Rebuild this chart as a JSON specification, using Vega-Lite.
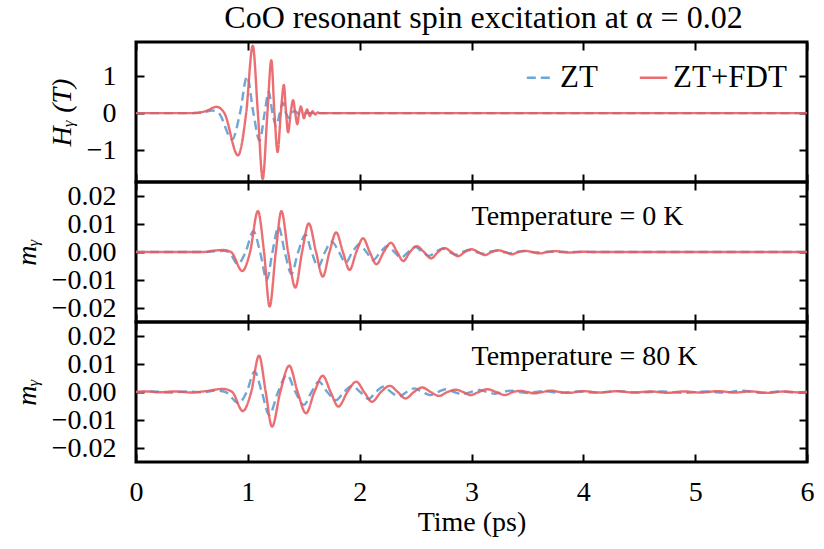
{
  "$schema": "https://vega.github.io/schema/vega-lite/v6.json",
  "padding": {"left": 11, "top": 0, "right": 10, "bottom": 5},
  "background": "white",
  "spacing": 0,
  "bounds": "flush",
  "config": {
    "font": "Liberation Serif",
    "view": {"stroke": "black", "strokeWidth": 3},
    "axis": {
      "domain": false,
      "grid": false,
      "ticks": true,
      "tickSize": -8,
      "tickWidth": 2,
      "tickColor": "black",
      "labelFont": "Liberation Serif",
      "labelFontSize": 28,
      "labelColor": "black",
      "labelPadding": 28,
      "labelFlush": false,
      "labelOverlap": false,
      "titleFont": "Liberation Serif",
      "titleFontSize": 28,
      "titleFontWeight": "normal",
      "titleColor": "black",
      "titlePadding": 10
    },
    "legend": {
      "orient": "top-right",
      "direction": "horizontal",
      "symbolType": "stroke",
      "symbolSize": 750,
      "symbolStrokeWidth": 2.5,
      "labelFont": "Liberation Serif",
      "labelFontSize": 31,
      "labelColor": "black",
      "columnPadding": 36,
      "offset": 20,
      "padding": 0
    },
    "title": {"font": "Liberation Serif", "fontSize": 32, "fontWeight": "normal", "color": "black"}
  },
  "datasets": {
    "hy": [
      {"s": "ZT", "t": 0, "v": 0}, {"s": "ZT", "t": 0.5, "v": 0}, {"s": "ZT", "t": 0.6, "v": 0.02}, {"s": "ZT", "t": 0.68, "v": 0.07},
      {"s": "ZT", "t": 0.74, "v": 0}, {"s": "ZT", "t": 0.86, "v": -0.71}, {"s": "ZT", "t": 0.93, "v": 0}, {"s": "ZT", "t": 0.993, "v": 0.99},
      {"s": "ZT", "t": 1.05, "v": 0}, {"s": "ZT", "t": 1.105, "v": -0.75}, {"s": "ZT", "t": 1.15, "v": 0}, {"s": "ZT", "t": 1.187, "v": 0.58},
      {"s": "ZT", "t": 1.22, "v": 0}, {"s": "ZT", "t": 1.255, "v": -0.35}, {"s": "ZT", "t": 1.285, "v": 0}, {"s": "ZT", "t": 1.315, "v": 0.28},
      {"s": "ZT", "t": 1.342, "v": 0}, {"s": "ZT", "t": 1.37, "v": -0.13}, {"s": "ZT", "t": 1.395, "v": 0}, {"s": "ZT", "t": 1.42, "v": 0.06},
      {"s": "ZT", "t": 1.445, "v": 0}, {"s": "ZT", "t": 1.47, "v": -0.02}, {"s": "ZT", "t": 1.5, "v": 0}, {"s": "ZT", "t": 6, "v": 0},
      {"s": "ZT+FDT", "t": 0, "v": 0}, {"s": "ZT+FDT", "t": 0.5, "v": 0}, {"s": "ZT+FDT", "t": 0.62, "v": 0.05}, {"s": "ZT+FDT", "t": 0.72, "v": 0.17},
      {"s": "ZT+FDT", "t": 0.79, "v": 0}, {"s": "ZT+FDT", "t": 0.912, "v": -1.14}, {"s": "ZT+FDT", "t": 0.985, "v": 0}, {"s": "ZT+FDT", "t": 1.044, "v": 1.82},
      {"s": "ZT+FDT", "t": 1.09, "v": 0}, {"s": "ZT+FDT", "t": 1.133, "v": -1.78}, {"s": "ZT+FDT", "t": 1.175, "v": 0}, {"s": "ZT+FDT", "t": 1.21, "v": 1.43},
      {"s": "ZT+FDT", "t": 1.238, "v": 0}, {"s": "ZT+FDT", "t": 1.266, "v": -1.05}, {"s": "ZT+FDT", "t": 1.295, "v": 0}, {"s": "ZT+FDT", "t": 1.322, "v": 0.76},
      {"s": "ZT+FDT", "t": 1.342, "v": 0}, {"s": "ZT+FDT", "t": 1.36, "v": -0.52}, {"s": "ZT+FDT", "t": 1.383, "v": 0}, {"s": "ZT+FDT", "t": 1.405, "v": 0.35},
      {"s": "ZT+FDT", "t": 1.424, "v": 0}, {"s": "ZT+FDT", "t": 1.442, "v": -0.3}, {"s": "ZT+FDT", "t": 1.459, "v": 0}, {"s": "ZT+FDT", "t": 1.475, "v": 0.18},
      {"s": "ZT+FDT", "t": 1.489, "v": 0}, {"s": "ZT+FDT", "t": 1.502, "v": -0.14}, {"s": "ZT+FDT", "t": 1.516, "v": 0}, {"s": "ZT+FDT", "t": 1.53, "v": 0.1},
      {"s": "ZT+FDT", "t": 1.543, "v": 0}, {"s": "ZT+FDT", "t": 1.555, "v": -0.08}, {"s": "ZT+FDT", "t": 1.567, "v": 0}, {"s": "ZT+FDT", "t": 1.579, "v": 0.05},
      {"s": "ZT+FDT", "t": 1.591, "v": 0}, {"s": "ZT+FDT", "t": 1.603, "v": -0.04}, {"s": "ZT+FDT", "t": 1.615, "v": 0}, {"s": "ZT+FDT", "t": 1.627, "v": 0.02},
      {"s": "ZT+FDT", "t": 1.64, "v": 0}, {"s": "ZT+FDT", "t": 6, "v": 0}
    ],
    "m0": [
      {"s": "ZT", "t": 0, "v": 0}, {"s": "ZT", "t": 0.6, "v": 0}, {"s": "ZT", "t": 0.72, "v": 0.0003}, {"s": "ZT", "t": 0.78, "v": 0.0004},
      {"s": "ZT", "t": 0.83, "v": 0}, {"s": "ZT", "t": 0.91, "v": -0.0043}, {"s": "ZT", "t": 0.98, "v": 0}, {"s": "ZT", "t": 1.05, "v": 0.0074},
      {"s": "ZT", "t": 1.11, "v": 0}, {"s": "ZT", "t": 1.17, "v": -0.01}, {"s": "ZT", "t": 1.22, "v": 0}, {"s": "ZT", "t": 1.275, "v": 0.009},
      {"s": "ZT", "t": 1.33, "v": 0}, {"s": "ZT", "t": 1.39, "v": -0.0078}, {"s": "ZT", "t": 1.45, "v": 0}, {"s": "ZT", "t": 1.515, "v": 0.0062},
      {"s": "ZT", "t": 1.57, "v": 0}, {"s": "ZT", "t": 1.63, "v": -0.0053}, {"s": "ZT", "t": 1.69, "v": 0}, {"s": "ZT", "t": 1.75, "v": 0.0037},
      {"s": "ZT", "t": 1.815, "v": 0}, {"s": "ZT", "t": 1.875, "v": -0.0038}, {"s": "ZT", "t": 1.935, "v": 0}, {"s": "ZT", "t": 1.995, "v": 0.0027},
      {"s": "ZT", "t": 2.06, "v": 0}, {"s": "ZT", "t": 2.12, "v": -0.0029}, {"s": "ZT", "t": 2.185, "v": 0}, {"s": "ZT", "t": 2.25, "v": 0.0022},
      {"s": "ZT", "t": 2.31, "v": 0}, {"s": "ZT", "t": 2.37, "v": -0.002}, {"s": "ZT", "t": 2.435, "v": 0}, {"s": "ZT", "t": 2.5, "v": 0.0018},
      {"s": "ZT", "t": 2.56, "v": 0}, {"s": "ZT", "t": 2.62, "v": -0.0014}, {"s": "ZT", "t": 2.68, "v": 0}, {"s": "ZT", "t": 2.74, "v": 0.0012},
      {"s": "ZT", "t": 2.8, "v": 0}, {"s": "ZT", "t": 2.86, "v": -0.001}, {"s": "ZT", "t": 2.92, "v": 0}, {"s": "ZT", "t": 2.98, "v": 0.0007},
      {"s": "ZT", "t": 3.04, "v": 0}, {"s": "ZT", "t": 3.1, "v": -0.0006}, {"s": "ZT", "t": 3.16, "v": 0}, {"s": "ZT", "t": 3.22, "v": 0.0005},
      {"s": "ZT", "t": 3.28, "v": 0}, {"s": "ZT", "t": 3.34, "v": -0.0004}, {"s": "ZT", "t": 3.4, "v": 0}, {"s": "ZT", "t": 3.46, "v": 0.0003},
      {"s": "ZT", "t": 3.52, "v": 0}, {"s": "ZT", "t": 3.58, "v": -0.0002}, {"s": "ZT", "t": 3.64, "v": 0}, {"s": "ZT", "t": 3.7, "v": 0.0001},
      {"s": "ZT", "t": 3.8, "v": 0}, {"s": "ZT", "t": 6, "v": 0},
      {"s": "ZT+FDT", "t": 0, "v": 0}, {"s": "ZT+FDT", "t": 0.6, "v": 0}, {"s": "ZT+FDT", "t": 0.7, "v": 0.0005}, {"s": "ZT+FDT", "t": 0.78, "v": 0.0007},
      {"s": "ZT+FDT", "t": 0.85, "v": 0}, {"s": "ZT+FDT", "t": 0.95, "v": -0.0068}, {"s": "ZT+FDT", "t": 1.02, "v": 0}, {"s": "ZT+FDT", "t": 1.09, "v": 0.0146},
      {"s": "ZT+FDT", "t": 1.145, "v": 0}, {"s": "ZT+FDT", "t": 1.195, "v": -0.0195}, {"s": "ZT+FDT", "t": 1.25, "v": 0}, {"s": "ZT+FDT", "t": 1.3, "v": 0.0146},
      {"s": "ZT+FDT", "t": 1.36, "v": 0}, {"s": "ZT+FDT", "t": 1.425, "v": -0.0127}, {"s": "ZT+FDT", "t": 1.485, "v": 0}, {"s": "ZT+FDT", "t": 1.545, "v": 0.0102},
      {"s": "ZT+FDT", "t": 1.61, "v": 0}, {"s": "ZT+FDT", "t": 1.67, "v": -0.0088}, {"s": "ZT+FDT", "t": 1.73, "v": 0}, {"s": "ZT+FDT", "t": 1.79, "v": 0.007},
      {"s": "ZT+FDT", "t": 1.85, "v": 0}, {"s": "ZT+FDT", "t": 1.91, "v": -0.0064}, {"s": "ZT+FDT", "t": 1.97, "v": 0}, {"s": "ZT+FDT", "t": 2.03, "v": 0.0049},
      {"s": "ZT+FDT", "t": 2.09, "v": 0}, {"s": "ZT+FDT", "t": 2.15, "v": -0.0044}, {"s": "ZT+FDT", "t": 2.215, "v": 0}, {"s": "ZT+FDT", "t": 2.28, "v": 0.0033},
      {"s": "ZT+FDT", "t": 2.335, "v": 0}, {"s": "ZT+FDT", "t": 2.39, "v": -0.0032}, {"s": "ZT+FDT", "t": 2.45, "v": 0}, {"s": "ZT+FDT", "t": 2.51, "v": 0.0021},
      {"s": "ZT+FDT", "t": 2.575, "v": 0}, {"s": "ZT+FDT", "t": 2.64, "v": -0.0023}, {"s": "ZT+FDT", "t": 2.7, "v": 0}, {"s": "ZT+FDT", "t": 2.76, "v": 0.0014},
      {"s": "ZT+FDT", "t": 2.82, "v": 0}, {"s": "ZT+FDT", "t": 2.88, "v": -0.0015}, {"s": "ZT+FDT", "t": 2.94, "v": 0}, {"s": "ZT+FDT", "t": 3.0, "v": 0.001},
      {"s": "ZT+FDT", "t": 3.06, "v": 0}, {"s": "ZT+FDT", "t": 3.12, "v": -0.0011}, {"s": "ZT+FDT", "t": 3.18, "v": 0}, {"s": "ZT+FDT", "t": 3.24, "v": 0.0006},
      {"s": "ZT+FDT", "t": 3.3, "v": 0}, {"s": "ZT+FDT", "t": 3.36, "v": -0.0008}, {"s": "ZT+FDT", "t": 3.42, "v": 0}, {"s": "ZT+FDT", "t": 3.48, "v": 0.0004},
      {"s": "ZT+FDT", "t": 3.545, "v": 0}, {"s": "ZT+FDT", "t": 3.61, "v": -0.0005}, {"s": "ZT+FDT", "t": 3.68, "v": 0}, {"s": "ZT+FDT", "t": 3.75, "v": 0.0003},
      {"s": "ZT+FDT", "t": 3.82, "v": 0}, {"s": "ZT+FDT", "t": 3.88, "v": -0.0002}, {"s": "ZT+FDT", "t": 3.95, "v": 0}, {"s": "ZT+FDT", "t": 4.0, "v": 0.0001},
      {"s": "ZT+FDT", "t": 4.1, "v": 0}, {"s": "ZT+FDT", "t": 6, "v": 0}
    ],
    "m80": [
      {"s": "ZT", "t": 0, "v": 0}, {"s": "ZT", "t": 0.15, "v": 0.0002}, {"s": "ZT", "t": 0.3, "v": -0.0002}, {"s": "ZT", "t": 0.45, "v": 0.0002},
      {"s": "ZT", "t": 0.6, "v": -0.0001}, {"s": "ZT", "t": 0.72, "v": 0.0005}, {"s": "ZT", "t": 0.8, "v": 0}, {"s": "ZT", "t": 0.918, "v": -0.004},
      {"s": "ZT", "t": 0.99, "v": 0}, {"s": "ZT", "t": 1.06, "v": 0.0073}, {"s": "ZT", "t": 1.125, "v": 0}, {"s": "ZT", "t": 1.19, "v": -0.0082},
      {"s": "ZT", "t": 1.27, "v": 0}, {"s": "ZT", "t": 1.35, "v": 0.0061}, {"s": "ZT", "t": 1.425, "v": 0}, {"s": "ZT", "t": 1.5, "v": -0.0046},
      {"s": "ZT", "t": 1.57, "v": 0}, {"s": "ZT", "t": 1.634, "v": 0.0037}, {"s": "ZT", "t": 1.71, "v": 0}, {"s": "ZT", "t": 1.79, "v": -0.0029},
      {"s": "ZT", "t": 1.86, "v": 0}, {"s": "ZT", "t": 1.93, "v": 0.0022}, {"s": "ZT", "t": 2.005, "v": 0}, {"s": "ZT", "t": 2.08, "v": -0.0025},
      {"s": "ZT", "t": 2.145, "v": 0}, {"s": "ZT", "t": 2.21, "v": 0.0019}, {"s": "ZT", "t": 2.28, "v": 0}, {"s": "ZT", "t": 2.35, "v": -0.0016},
      {"s": "ZT", "t": 2.42, "v": 0}, {"s": "ZT", "t": 2.49, "v": 0.0013}, {"s": "ZT", "t": 2.56, "v": 0}, {"s": "ZT", "t": 2.63, "v": -0.0011},
      {"s": "ZT", "t": 2.7, "v": 0}, {"s": "ZT", "t": 2.77, "v": 0.001}, {"s": "ZT", "t": 2.845, "v": 0}, {"s": "ZT", "t": 2.92, "v": -0.0008},
      {"s": "ZT", "t": 2.995, "v": 0}, {"s": "ZT", "t": 3.07, "v": 0.0007}, {"s": "ZT", "t": 3.14, "v": 0}, {"s": "ZT", "t": 3.21, "v": -0.0006},
      {"s": "ZT", "t": 3.28, "v": 0}, {"s": "ZT", "t": 3.35, "v": 0.0005}, {"s": "ZT", "t": 3.425, "v": 0}, {"s": "ZT", "t": 3.5, "v": -0.0004},
      {"s": "ZT", "t": 3.57, "v": 0}, {"s": "ZT", "t": 3.64, "v": 0.0003}, {"s": "ZT", "t": 3.8, "v": -0.0003}, {"s": "ZT", "t": 3.95, "v": 0.0002},
      {"s": "ZT", "t": 4.1, "v": -0.0002}, {"s": "ZT", "t": 4.3, "v": 0.0003}, {"s": "ZT", "t": 4.5, "v": -0.0002}, {"s": "ZT", "t": 4.7, "v": 0.0002},
      {"s": "ZT", "t": 4.9, "v": -0.0003}, {"s": "ZT", "t": 5.1, "v": 0.0002}, {"s": "ZT", "t": 5.25, "v": -0.0002}, {"s": "ZT", "t": 5.42, "v": 0.0005},
      {"s": "ZT", "t": 5.6, "v": -0.0003}, {"s": "ZT", "t": 5.75, "v": 0.0002}, {"s": "ZT", "t": 5.9, "v": -0.0002}, {"s": "ZT", "t": 6, "v": 0},
      {"s": "ZT+FDT", "t": 0, "v": 0}, {"s": "ZT+FDT", "t": 0.1, "v": 0.0002}, {"s": "ZT+FDT", "t": 0.2, "v": -0.0001}, {"s": "ZT+FDT", "t": 0.35, "v": 0.0002},
      {"s": "ZT+FDT", "t": 0.5, "v": -0.0002}, {"s": "ZT+FDT", "t": 0.62, "v": 0.0003}, {"s": "ZT+FDT", "t": 0.78, "v": 0.0011}, {"s": "ZT+FDT", "t": 0.86, "v": 0},
      {"s": "ZT+FDT", "t": 0.955, "v": -0.0068}, {"s": "ZT+FDT", "t": 1.03, "v": 0}, {"s": "ZT+FDT", "t": 1.1, "v": 0.013}, {"s": "ZT+FDT", "t": 1.16, "v": 0},
      {"s": "ZT+FDT", "t": 1.216, "v": -0.0124}, {"s": "ZT+FDT", "t": 1.29, "v": 0}, {"s": "ZT+FDT", "t": 1.37, "v": 0.0094}, {"s": "ZT+FDT", "t": 1.445, "v": 0},
      {"s": "ZT+FDT", "t": 1.52, "v": -0.0076}, {"s": "ZT+FDT", "t": 1.595, "v": 0}, {"s": "ZT+FDT", "t": 1.67, "v": 0.0058}, {"s": "ZT+FDT", "t": 1.74, "v": 0},
      {"s": "ZT+FDT", "t": 1.81, "v": -0.0052}, {"s": "ZT+FDT", "t": 1.89, "v": 0}, {"s": "ZT+FDT", "t": 1.97, "v": 0.0037}, {"s": "ZT+FDT", "t": 2.04, "v": 0},
      {"s": "ZT+FDT", "t": 2.11, "v": -0.0035}, {"s": "ZT+FDT", "t": 2.19, "v": 0}, {"s": "ZT+FDT", "t": 2.27, "v": 0.0022}, {"s": "ZT+FDT", "t": 2.34, "v": 0},
      {"s": "ZT+FDT", "t": 2.41, "v": -0.0023}, {"s": "ZT+FDT", "t": 2.485, "v": 0}, {"s": "ZT+FDT", "t": 2.56, "v": 0.0016}, {"s": "ZT+FDT", "t": 2.635, "v": 0},
      {"s": "ZT+FDT", "t": 2.71, "v": -0.0014}, {"s": "ZT+FDT", "t": 2.785, "v": 0}, {"s": "ZT+FDT", "t": 2.86, "v": 0.0008}, {"s": "ZT+FDT", "t": 2.925, "v": 0},
      {"s": "ZT+FDT", "t": 2.99, "v": -0.0011}, {"s": "ZT+FDT", "t": 3.065, "v": 0}, {"s": "ZT+FDT", "t": 3.14, "v": 0.001}, {"s": "ZT+FDT", "t": 3.22, "v": 0},
      {"s": "ZT+FDT", "t": 3.3, "v": -0.0011}, {"s": "ZT+FDT", "t": 3.37, "v": 0}, {"s": "ZT+FDT", "t": 3.44, "v": 0.0004}, {"s": "ZT+FDT", "t": 3.5, "v": 0},
      {"s": "ZT+FDT", "t": 3.56, "v": -0.0005}, {"s": "ZT+FDT", "t": 3.635, "v": 0}, {"s": "ZT+FDT", "t": 3.71, "v": 0.0005}, {"s": "ZT+FDT", "t": 3.79, "v": 0},
      {"s": "ZT+FDT", "t": 3.87, "v": -0.0003}, {"s": "ZT+FDT", "t": 4.0, "v": 0.0003}, {"s": "ZT+FDT", "t": 4.15, "v": -0.0002}, {"s": "ZT+FDT", "t": 4.3, "v": 0.0003},
      {"s": "ZT+FDT", "t": 4.45, "v": -0.0002}, {"s": "ZT+FDT", "t": 4.6, "v": 0.0002}, {"s": "ZT+FDT", "t": 4.75, "v": -0.0003}, {"s": "ZT+FDT", "t": 4.9, "v": 0.0002},
      {"s": "ZT+FDT", "t": 5.05, "v": -0.0002}, {"s": "ZT+FDT", "t": 5.2, "v": 0.0003}, {"s": "ZT+FDT", "t": 5.35, "v": -0.0002}, {"s": "ZT+FDT", "t": 5.5, "v": 0.0002},
      {"s": "ZT+FDT", "t": 5.65, "v": -0.0003}, {"s": "ZT+FDT", "t": 5.8, "v": 0.0002}, {"s": "ZT+FDT", "t": 5.95, "v": -0.0002}, {"s": "ZT+FDT", "t": 6, "v": 0}
    ],
    "note0": [{"t": 3.0, "v": 0.0125, "label": "Temperature = 0 K"}],
    "note80": [{"t": 3.0, "v": 0.0125, "label": "Temperature = 80 K"}]
  },
  "vconcat": [
    {
      "title": {"text": "CoO resonant spin excitation at α = 0.02", "frame": "group", "anchor": "middle", "dx": 12, "offset": 6},
      "width": 671,
      "height": 140,
      "data": {"name": "hy"},
      "layer": [
        {
          "mark": {"type": "line", "interpolate": "monotone", "clip": true, "strokeWidth": 2.4, "opacity": 0.88},
          "encoding": {
            "x": {"field": "t", "type": "quantitative", "scale": {"domain": [0, 6], "nice": false}, "axis": {"values": [0, 1, 2, 3, 4, 5, 6], "labels": false, "title": null}},
            "y": {"field": "v", "type": "quantitative", "scale": {"domain": [-1.86, 1.92], "nice": false, "zero": false}, "axis": {"values": [-1, 0, 1], "format": "d", "title": "Hᵧ (T)", "titleFontStyle": "italic"}},
            "color": {"field": "s", "type": "nominal", "scale": {"domain": ["ZT", "ZT+FDT"], "range": ["#5a9bd0", "#e85a5e"]}, "legend": {"title": null}},
            "strokeDash": {"field": "s", "type": "nominal", "scale": {"domain": ["ZT", "ZT+FDT"], "range": [[9, 5], [1, 0]]}, "legend": {"title": null}}
          }
        },
        {
          "mark": {"type": "line", "strokeOpacity": 0},
          "encoding": {
            "x": {"field": "t", "type": "quantitative", "scale": {"domain": [0, 6], "nice": false}, "axis": {"values": [0, 1, 2, 3, 4, 5, 6], "labels": false, "title": null}},
            "y": {"field": "v", "type": "quantitative", "scale": {"domain": [-1.86, 1.92], "nice": false, "zero": false}, "axis": {"values": [-1, 0, 1], "labels": false, "title": null}}
          }
        }
      ],
      "resolve": {"axis": {"x": "independent", "y": "independent"}}
    },
    {
      "width": 671,
      "height": 140,
      "data": {"name": "m0"},
      "layer": [
        {
          "mark": {"type": "line", "interpolate": "monotone", "clip": true, "strokeWidth": 2.4, "opacity": 0.88},
          "encoding": {
            "x": {"field": "t", "type": "quantitative", "scale": {"domain": [0, 6], "nice": false}, "axis": {"values": [0, 1, 2, 3, 4, 5, 6], "labels": false, "title": null}},
            "y": {"field": "v", "type": "quantitative", "scale": {"domain": [-0.025, 0.025], "nice": false, "zero": false}, "axis": {"values": [-0.02, -0.01, 0, 0.01, 0.02], "format": ".2f", "title": "mᵧ", "titleFontStyle": "italic"}},
            "color": {"field": "s", "type": "nominal", "scale": {"domain": ["ZT", "ZT+FDT"], "range": ["#5a9bd0", "#e85a5e"]}, "legend": null},
            "strokeDash": {"field": "s", "type": "nominal", "scale": {"domain": ["ZT", "ZT+FDT"], "range": [[9, 5], [1, 0]]}, "legend": null}
          }
        },
        {
          "mark": {"type": "line", "strokeOpacity": 0},
          "encoding": {
            "x": {"field": "t", "type": "quantitative", "scale": {"domain": [0, 6], "nice": false}, "axis": {"values": [0, 1, 2, 3, 4, 5, 6], "labels": false, "title": null}},
            "y": {"field": "v", "type": "quantitative", "scale": {"domain": [-0.025, 0.025], "nice": false, "zero": false}, "axis": {"values": [-0.02, -0.01, 0, 0.01, 0.02], "labels": false, "title": null}}
          }
        },
        {
          "data": {"name": "note0"},
          "mark": {"type": "text", "align": "left", "baseline": "middle", "fontSize": 28, "font": "Liberation Serif", "color": "black"},
          "encoding": {
            "x": {"field": "t", "type": "quantitative", "scale": {"domain": [0, 6], "nice": false}, "axis": null},
            "y": {"field": "v", "type": "quantitative", "scale": {"domain": [-0.025, 0.025], "nice": false, "zero": false}, "axis": null},
            "text": {"field": "label"}
          }
        }
      ],
      "resolve": {"axis": {"x": "independent", "y": "independent"}}
    },
    {
      "width": 671,
      "height": 140,
      "data": {"name": "m80"},
      "layer": [
        {
          "mark": {"type": "line", "interpolate": "monotone", "clip": true, "strokeWidth": 2.4, "opacity": 0.88},
          "encoding": {
            "x": {"field": "t", "type": "quantitative", "scale": {"domain": [0, 6], "nice": false}, "axis": {"values": [0, 1, 2, 3, 4, 5, 6], "format": "d", "title": "Time (ps)", "labelPadding": 24, "titlePadding": 2}},
            "y": {"field": "v", "type": "quantitative", "scale": {"domain": [-0.025, 0.025], "nice": false, "zero": false}, "axis": {"values": [-0.02, -0.01, 0, 0.01, 0.02], "format": ".2f", "title": "mᵧ", "titleFontStyle": "italic"}},
            "color": {"field": "s", "type": "nominal", "scale": {"domain": ["ZT", "ZT+FDT"], "range": ["#5a9bd0", "#e85a5e"]}, "legend": null},
            "strokeDash": {"field": "s", "type": "nominal", "scale": {"domain": ["ZT", "ZT+FDT"], "range": [[9, 5], [1, 0]]}, "legend": null}
          }
        },
        {
          "mark": {"type": "line", "strokeOpacity": 0},
          "encoding": {
            "x": {"field": "t", "type": "quantitative", "scale": {"domain": [0, 6], "nice": false}, "axis": {"values": [0, 1, 2, 3, 4, 5, 6], "labels": false, "title": null}},
            "y": {"field": "v", "type": "quantitative", "scale": {"domain": [-0.025, 0.025], "nice": false, "zero": false}, "axis": {"values": [-0.02, -0.01, 0, 0.01, 0.02], "labels": false, "title": null}}
          }
        },
        {
          "data": {"name": "note80"},
          "mark": {"type": "text", "align": "left", "baseline": "middle", "fontSize": 28, "font": "Liberation Serif", "color": "black"},
          "encoding": {
            "x": {"field": "t", "type": "quantitative", "scale": {"domain": [0, 6], "nice": false}, "axis": null},
            "y": {"field": "v", "type": "quantitative", "scale": {"domain": [-0.025, 0.025], "nice": false, "zero": false}, "axis": null},
            "text": {"field": "label"}
          }
        }
      ],
      "resolve": {"axis": {"x": "independent", "y": "independent"}}
    }
  ],
  "resolve": {"scale": {"color": "independent", "strokeDash": "independent"}, "legend": {"color": "independent", "strokeDash": "independent"}}
}
